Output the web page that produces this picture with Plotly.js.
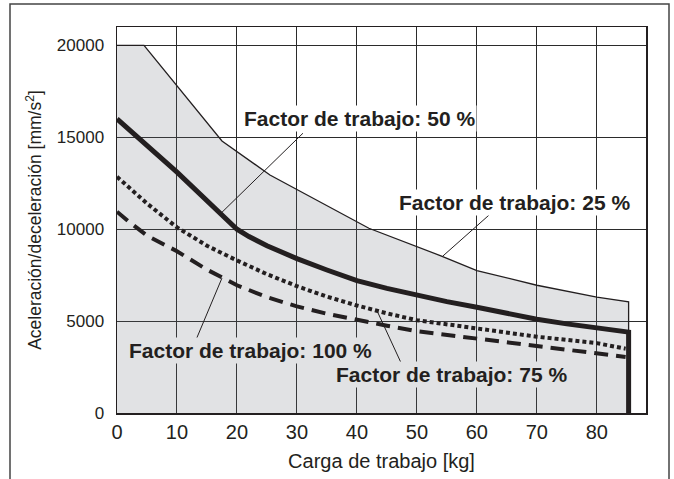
<!DOCTYPE html>
<html>
<head>
<meta charset="utf-8">
<script src="https://cdn.plot.ly/plotly-3.0.1.min.js"></script>
<style>html,body{margin:0;padding:0;background:#fff;}#chart{width:674px;height:479px;}</style>
</head>
<body>
<div id="chart"></div>
<script>
// Factor de trabajo: 25 % (upper boundary of the grey region)
const load25 = [0, 4.5, 17.5, 25.5, 42, 54, 60, 70, 80, 85.3, 85.3];
const acc25  = [20000, 20000, 14800, 12950, 10050, 8550, 7750, 6950, 6300, 6050, 4400];
// Factor de trabajo: 50 %
const load50 = [0, 10, 20, 22, 25, 30, 35, 40, 45, 50, 55, 60, 65, 70, 75, 80, 85.3, 85.3];
const acc50  = [16000, 13100, 10000, 9600, 9100, 8400, 7780, 7200, 6780, 6400, 6060, 5750, 5420, 5100, 4850, 4620, 4400, 0];
// Factor de trabajo: 75 %
const load75 = [0, 5, 10, 15, 20, 25, 30, 35, 40, 45, 50, 60, 70, 80, 84.8];
const acc75  = [12850, 11400, 10100, 9100, 8300, 7550, 6900, 6330, 5850, 5420, 5050, 4600, 4150, 3800, 3500];
// Factor de trabajo: 100 %
const load100 = [0, 2, 5, 10, 15, 20, 25, 30, 35, 40, 45, 50, 60, 70, 80, 84.8];
const acc100  = [10950, 10400, 9650, 8800, 7800, 6950, 6300, 5800, 5400, 5050, 4750, 4450, 4050, 3600, 3250, 3050];

const xTicks = [0, 10, 20, 30, 40, 50, 60, 70, 80];
const yTicks = [0, 5000, 10000, 15000, 20000];

const labels = ['Factor de trabajo: 25 %', 'Factor de trabajo: 50 %', 'Factor de trabajo: 75 %', 'Factor de trabajo: 100 %'];
// text anchor points and pointer targets [textX, textY, fromX, fromY, toX, toY]
const labelPos = [
  [66.3, 11470, 62.0, 10760, 54.3, 8530],
  [40.5, 16030, 31.0, 15220, 17.5, 10920],
  [55.7, 2070, 43.3, 5600, 47.3, 2770],
  [22.2, 3420, 13.3, 4080, 17.5, 7340]
];
const labelBg = ['#ffffff', '#ffffff', '#e1e2e4', '#e1e2e4'];

const ink = '#231f20';
const W = 674, H = 479, L = 117, R = 28, T = 27, B = 66;
const pw = W - L - R, ph = H - T - B;

const traces = [
  {x: load25, y: acc25, mode: 'lines', fill: 'tozeroy', fillcolor: 'rgba(105,110,120,0.2)',
   line: {color: ink, width: 1.3}, hoverinfo: 'skip'},
  {x: load100, y: acc100, mode: 'lines', line: {color: ink, width: 4, dash: '14px,8px'}, hoverinfo: 'skip'},
  {x: load75, y: acc75, mode: 'lines', line: {color: ink, width: 4, dash: '4px,3px'}, hoverinfo: 'skip'},
  {x: load50, y: acc50, mode: 'lines', line: {color: ink, width: 5}, hoverinfo: 'skip'}
];

const shapes = labelPos.map(p => ({type: 'line', xref: 'x', yref: 'y', x0: p[2], y0: p[3], x1: p[4], y1: p[5],
  line: {color: ink, width: 1}}));
shapes.push({type: 'rect', xref: 'paper', yref: 'paper',
  x0: (10 - L) / pw, x1: (669 - L) / pw, y0: (H - B - 490) / ph, y1: (H - B - 4) / ph,
  line: {color: '#444', width: 1.5}, fillcolor: 'rgba(0,0,0,0)'});

const annotations = labels.map((t, i) => ({
  text: '<b>' + t + '</b>', x: labelPos[i][0], y: labelPos[i][1], xref: 'x', yref: 'y',
  showarrow: false, bgcolor: labelBg[i], borderpad: 1,
  font: {family: 'Liberation Sans, Arial, sans-serif', size: 21, color: ink}
}));

const layout = {
  width: W, height: H,
  margin: {l: L, r: R, t: T, b: B},
  paper_bgcolor: '#fff', plot_bgcolor: '#fff',
  showlegend: false,
  font: {family: 'Liberation Sans, Arial, sans-serif', color: ink},
  xaxis: {range: [0, 88.2], tickvals: xTicks, ticks: '', showgrid: true, gridcolor: '#2b2b2b', gridwidth: 1,
    zeroline: false, showline: true, mirror: true, linecolor: ink, linewidth: 1.5,
    tickfont: {size: 20, color: ink}, ticklabelstandoff: 0,
    title: {text: 'Carga de trabajo [kg]', font: {size: 20, color: ink}, standoff: 12}},
  yaxis: {range: [0, 21000], tickvals: yTicks, tickformat: 'd', ticks: '', showgrid: true, gridcolor: '#2b2b2b', gridwidth: 1,
    zeroline: false, showline: true, mirror: true, linecolor: ink, linewidth: 1.5,
    tickfont: {size: 17, color: ink}, ticklabelstandoff: 8,
    title: {text: 'Aceleración/deceleración [mm/s<sup>2</sup>]', font: {size: 17.5, color: ink}, standoff: 10}},
  shapes: shapes,
  annotations: annotations
};

Plotly.newPlot('chart', traces, layout, {staticPlot: true, displayModeBar: false});
</script>
</body>
</html>
